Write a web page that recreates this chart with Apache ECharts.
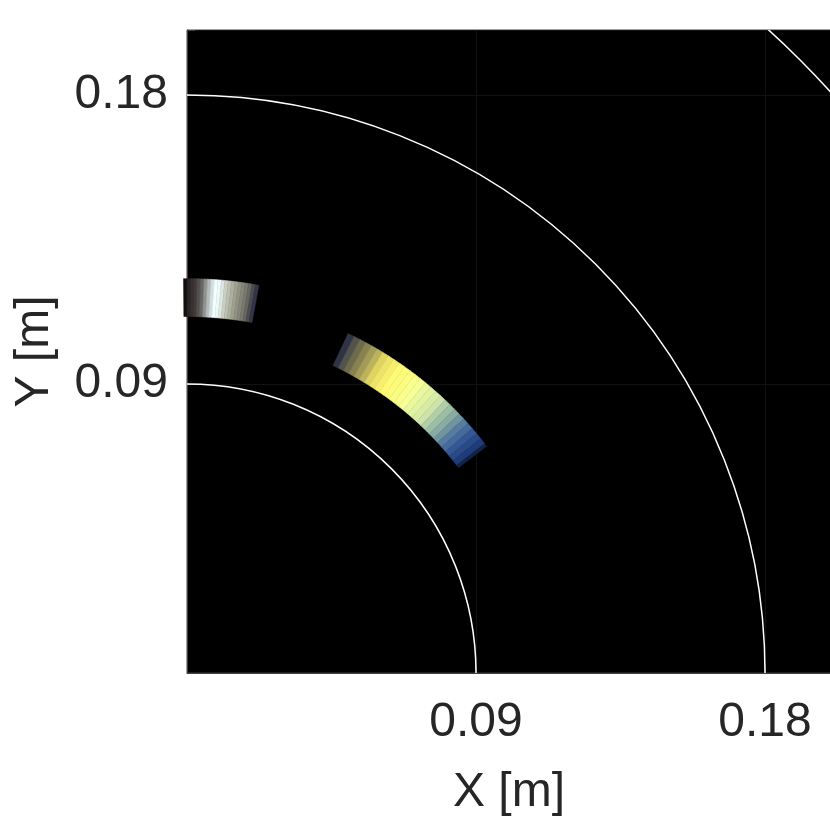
<!DOCTYPE html>
<html>
<head>
<meta charset="utf-8">
<script src="https://cdn.jsdelivr.net/npm/echarts@6/dist/echarts.min.js"></script>
<style>html,body{margin:0;padding:0;background:#fff}#c{width:830px;height:830px}</style>
</head>
<body>
<div id="c"></div>
<script>
// ---- data ----
const xTicks = [0.09, 0.18];
const yTicks = [0.09, 0.18];
const circleRadii = [0.09, 0.18, 0.27];

// patch 1 (upper, near Y axis): cell angle edges [deg], radii [m], values
const patch1Edges = [90.5, 90.0, 89.5, 89.0, 88.5, 88.0, 87.5, 87.0, 86.5, 86.0, 85.5, 85.0,
                     84.5, 84.0, 83.5, 83.0, 82.5, 82.0, 81.5, 81.0, 80.5, 80.0, 79.5];
const patch1Radii = [0.111, 0.1228];
const patch1Values = [1.0, 0.95, 0.92, 0.9, 0.85, 0.8, 0.75, 0.7, 0.65, 0.6, 0.58,
                      0.52, 0.46, 0.42, 0.38, 0.34, 0.3, 0.26, 0.22, 0.17, 0.1, 0.03];

// patch 2 (middle arc)
const patch2Edges = [64.6, 63.6, 62.6, 61.6, 60.6, 59.6, 58.6, 57.6, 56.6, 55.6, 54.6, 53.6,
                     52.6, 51.6, 50.6, 49.6, 48.6, 47.6, 46.6, 45.6, 44.6, 43.6, 42.6, 41.6,
                     40.6, 39.6, 38.6, 37.6, 37.1];
const patch2Radii = [0.106, 0.117];
const patch2Values = [1.0, 0.96, 0.93, 0.9, 0.87, 0.84, 0.8, 0.76, 0.73, 0.7, 0.68, 0.66,
                      0.63, 0.6, 0.57, 0.55, 0.53, 0.5, 0.46, 0.43, 0.4, 0.35, 0.3, 0.25,
                      0.2, 0.15, 0.1, 0.03];

// ---- colour maps (style) ----
const cmap1 = ['#2a2a44','#4c4c50','#727268','#929284','#b4b6a6','#d8e0d8','#f0ffff','#b4baba','#6a6666','#403a3a','#120e0e'];
const cmap2 = ['#101828','#1e3c78','#345896','#587ca0','#88aca4','#cce4ac','#f6ff98','#fffa74','#e0d460','#888250','#2e3444'];

function cells(edges, radii, values) {
  return values.map((v, i) => [edges[i], edges[i + 1], radii[0], radii[1], v]);
}

const TXT = '#262626';
const FONT = 'Liberation Sans';
const FS = 48;

function sectorItem(params, api) {
  const a0 = api.value(0) * Math.PI / 180, a1 = api.value(1) * Math.PI / 180;
  const r0 = api.value(2), r1 = api.value(3);
  const N = 6, pts = [];
  for (let k = 0; k <= N; k++) {
    const a = a0 + (a1 - a0) * k / N;
    pts.push(api.coord([r1 * Math.cos(a), r1 * Math.sin(a)]));
  }
  for (let k = N; k >= 0; k--) {
    const a = a0 + (a1 - a0) * k / N;
    pts.push(api.coord([r0 * Math.cos(a), r0 * Math.sin(a)]));
  }
  const c = api.visual('color');
  return { type: 'polygon', shape: { points: pts }, style: { fill: c, stroke: c, lineWidth: 0.6 } };
}

function circleItem(params, api) {
  const c = api.coord([0, 0]);
  const r = api.size([api.value(0), 0])[0];
  return { type: 'arc', shape: { cx: c[0], cy: c[1], r: r, startAngle: -Math.PI / 2, endAngle: 0, clockwise: true },
           style: { stroke: '#ffffff', fill: null, lineWidth: 1.5 } };
}

const chart = echarts.init(document.getElementById('c'), null, { renderer: 'canvas' });
const fmt = ticks => v => ticks.some(t => Math.abs(t - v) < 1e-9) ? v.toFixed(2) : '';

chart.setOption({
  animation: false,
  backgroundColor: '#ffffff',
  textStyle: { fontFamily: FONT },
  grid: { left: 187, top: 30, width: 644, height: 643, containLabel: false, outerBoundsMode: 'none',
          show: true, backgroundColor: '#000000', borderColor: '#404040', borderWidth: 1 },
  xAxis: {
    type: 'value', min: 0, max: 0.20055, interval: 0.09,
    name: 'X [m]', nameLocation: 'middle', nameGap: 96,
    nameTextStyle: { fontSize: FS, color: TXT, fontFamily: FONT },
    axisLine: { show: true, lineStyle: { color: '#404040', width: 1 } },
    axisTick: { show: true, inside: true, length: 8, lineStyle: { color: '#404040' } },
    axisLabel: { fontSize: FS, color: TXT, fontFamily: FONT, margin: 26, showMinLabel: false, formatter: fmt(xTicks) },
    splitLine: { show: true, lineStyle: { color: '#111111', width: 1 } }
  },
  yAxis: {
    type: 'value', min: 0, max: 0.20024, interval: 0.09,
    name: 'Y [m]', nameLocation: 'middle', nameGap: 128,
    nameTextStyle: { fontSize: FS, color: TXT, fontFamily: FONT },
    axisLine: { show: true, lineStyle: { color: '#404040', width: 1 } },
    axisTick: { show: true, inside: true, length: 8, lineStyle: { color: '#404040' } },
    axisLabel: { fontSize: FS, color: TXT, fontFamily: FONT, margin: 19, showMinLabel: false, formatter: fmt(yTicks) },
    splitLine: { show: true, lineStyle: { color: '#111111', width: 1 } }
  },
  visualMap: [
    { type: 'continuous', show: false, seriesIndex: 1, dimension: 4, min: 0, max: 1, inRange: { color: cmap1 } },
    { type: 'continuous', show: false, seriesIndex: 2, dimension: 4, min: 0, max: 1, inRange: { color: cmap2 } }
  ],
  series: [
    { type: 'custom', clip: true, renderItem: circleItem, data: circleRadii.map(r => [r]), encode: { x: 0, y: 0 }, z: 3 },
    { type: 'custom', clip: false, renderItem: sectorItem, data: cells(patch1Edges, patch1Radii, patch1Values), z: 2 },
    { type: 'custom', clip: false, renderItem: sectorItem, data: cells(patch2Edges, patch2Radii, patch2Values), z: 2 }
  ]
});
</script>
</body>
</html>
